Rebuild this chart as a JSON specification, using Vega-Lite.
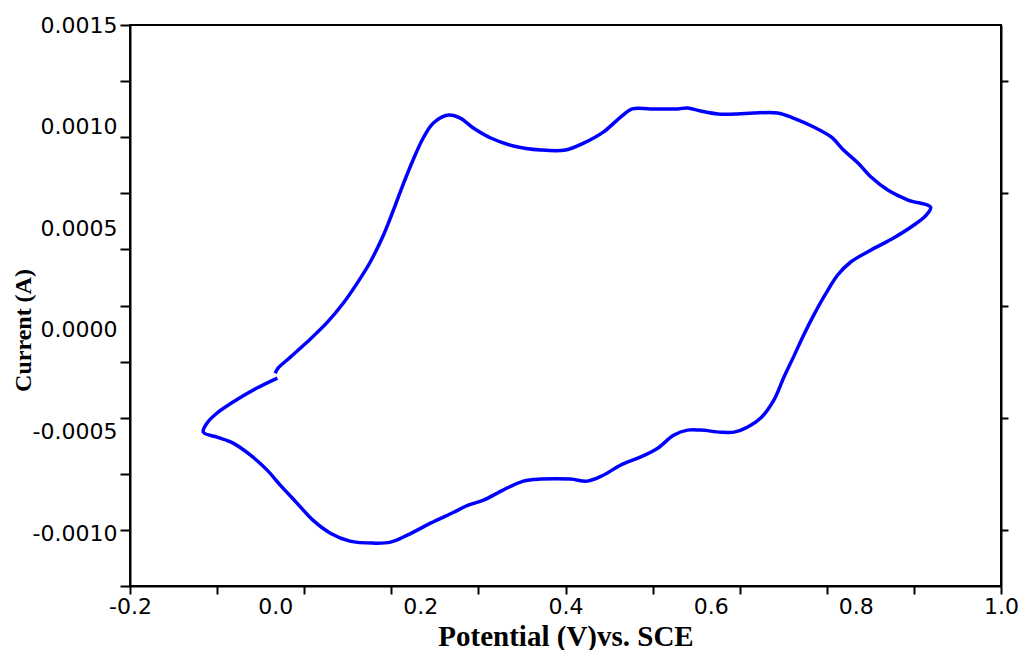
{
  "$schema": "https://vega.github.io/schema/vega-lite/v6.json",
  "width": 871,
  "height": 561,
  "autosize": "none",
  "padding": {"left": 130, "top": 25, "right": 21, "bottom": 64},
  "background": "white",
  "config": {
    "view": {"stroke": "black", "strokeWidth": 2},
    "axis": {
      "domainColor": "black",
      "domainWidth": 2,
      "tickColor": "black",
      "tickWidth": 2,
      "grid": false,
      "labelFont": "DejaVu Sans",
      "labelFontSize": 22,
      "labelColor": "black",
      "labelOverlap": false,
      "labelFlush": false,
      "labelBound": false
    }
  },
  "data": {
    "values": [
      {"k": 1, "v": 0.003, "i": -0.000237},
      {"k": 2, "v": -0.025, "i": -0.000286},
      {"k": 3, "v": -0.058, "i": -0.000355},
      {"k": 4, "v": -0.080, "i": -0.000409},
      {"k": 5, "v": -0.094, "i": -0.000459},
      {"k": 6, "v": -0.099, "i": -0.000503},
      {"k": 7, "v": -0.080, "i": -0.000528},
      {"k": 8, "v": -0.058, "i": -0.000557},
      {"k": 9, "v": -0.034, "i": -0.000616},
      {"k": 10, "v": -0.011, "i": -0.000690},
      {"k": 11, "v": 0.007, "i": -0.000764},
      {"k": 12, "v": 0.030, "i": -0.000852},
      {"k": 13, "v": 0.052, "i": -0.000936},
      {"k": 14, "v": 0.076, "i": -0.001000},
      {"k": 15, "v": 0.103, "i": -0.001039},
      {"k": 16, "v": 0.135, "i": -0.001049},
      {"k": 17, "v": 0.159, "i": -0.001044},
      {"k": 18, "v": 0.182, "i": -0.001010},
      {"k": 19, "v": 0.214, "i": -0.000951},
      {"k": 20, "v": 0.246, "i": -0.000897},
      {"k": 21, "v": 0.266, "i": -0.000862},
      {"k": 22, "v": 0.287, "i": -0.000838},
      {"k": 23, "v": 0.314, "i": -0.000788},
      {"k": 24, "v": 0.342, "i": -0.000744},
      {"k": 25, "v": 0.366, "i": -0.000734},
      {"k": 26, "v": 0.407, "i": -0.000734},
      {"k": 27, "v": 0.430, "i": -0.000744},
      {"k": 28, "v": 0.452, "i": -0.000715},
      {"k": 29, "v": 0.476, "i": -0.000665},
      {"k": 30, "v": 0.503, "i": -0.000626},
      {"k": 31, "v": 0.527, "i": -0.000582},
      {"k": 32, "v": 0.549, "i": -0.000518},
      {"k": 33, "v": 0.568, "i": -0.000493},
      {"k": 34, "v": 0.586, "i": -0.000493},
      {"k": 35, "v": 0.614, "i": -0.000503},
      {"k": 36, "v": 0.632, "i": -0.000503},
      {"k": 37, "v": 0.651, "i": -0.000478},
      {"k": 38, "v": 0.669, "i": -0.000434},
      {"k": 39, "v": 0.687, "i": -0.000346},
      {"k": 40, "v": 0.701, "i": -0.000232},
      {"k": 41, "v": 0.714, "i": -0.000134},
      {"k": 42, "v": 0.728, "i": -0.000026},
      {"k": 43, "v": 0.742, "i": 0.000073},
      {"k": 44, "v": 0.759, "i": 0.000181},
      {"k": 45, "v": 0.775, "i": 0.000270},
      {"k": 46, "v": 0.793, "i": 0.000334},
      {"k": 47, "v": 0.821, "i": 0.000393},
      {"k": 48, "v": 0.852, "i": 0.000452},
      {"k": 49, "v": 0.880, "i": 0.000516},
      {"k": 50, "v": 0.897, "i": 0.000565},
      {"k": 51, "v": 0.903, "i": 0.000604},
      {"k": 52, "v": 0.872, "i": 0.000639},
      {"k": 53, "v": 0.844, "i": 0.000688},
      {"k": 54, "v": 0.821, "i": 0.000752},
      {"k": 55, "v": 0.803, "i": 0.000821},
      {"k": 56, "v": 0.783, "i": 0.000885},
      {"k": 57, "v": 0.766, "i": 0.000949},
      {"k": 58, "v": 0.742, "i": 0.000998},
      {"k": 59, "v": 0.714, "i": 0.001042},
      {"k": 60, "v": 0.692, "i": 0.001067},
      {"k": 61, "v": 0.659, "i": 0.001067},
      {"k": 62, "v": 0.637, "i": 0.001062},
      {"k": 63, "v": 0.610, "i": 0.001062},
      {"k": 64, "v": 0.586, "i": 0.001077},
      {"k": 65, "v": 0.568, "i": 0.001092},
      {"k": 66, "v": 0.554, "i": 0.001087},
      {"k": 67, "v": 0.517, "i": 0.001087},
      {"k": 68, "v": 0.492, "i": 0.001087},
      {"k": 69, "v": 0.476, "i": 0.001047},
      {"k": 70, "v": 0.452, "i": 0.000973},
      {"k": 71, "v": 0.425, "i": 0.000919},
      {"k": 72, "v": 0.400, "i": 0.000885},
      {"k": 73, "v": 0.366, "i": 0.000885},
      {"k": 74, "v": 0.328, "i": 0.000905},
      {"k": 75, "v": 0.297, "i": 0.000944},
      {"k": 76, "v": 0.273, "i": 0.000993},
      {"k": 77, "v": 0.255, "i": 0.001042},
      {"k": 78, "v": 0.239, "i": 0.001057},
      {"k": 79, "v": 0.218, "i": 0.001018},
      {"k": 80, "v": 0.204, "i": 0.000944},
      {"k": 81, "v": 0.190, "i": 0.000836},
      {"k": 82, "v": 0.177, "i": 0.000722},
      {"k": 83, "v": 0.163, "i": 0.000590},
      {"k": 84, "v": 0.148, "i": 0.000457},
      {"k": 85, "v": 0.131, "i": 0.000334},
      {"k": 86, "v": 0.113, "i": 0.000230},
      {"k": 87, "v": 0.094, "i": 0.000132},
      {"k": 88, "v": 0.072, "i": 0.000038},
      {"k": 89, "v": 0.044, "i": -0.000060},
      {"k": 90, "v": 0.021, "i": -0.000134},
      {"k": 91, "v": 0.004, "i": -0.000188},
      {"k": 92, "v": 0.000, "i": -0.000213}
    ]
  },
  "encoding": {
    "x": {
      "field": "v",
      "type": "quantitative",
      "scale": {"domain": [-0.2, 1.0], "nice": false, "zero": false},
      "axis": {
        "orient": "bottom",
        "values": [-0.2, -0.08, 0, 0.04, 0.16, 0.2, 0.28, 0.4, 0.52, 0.6, 0.64, 0.76, 0.8, 0.88, 1.0],
        "labelExpr": "indexof([-0.2, 0, 0.2, 0.4, 0.6, 0.8, 1.0], datum.value) >= 0 ? (datum.value < 0 ? '-' : '') + format(abs(datum.value), '.1f') : ''",
        "tickOpacity": {"condition": {"test": "indexof([-0.2, -0.08, 0.04, 0.16, 0.28, 0.4, 0.52, 0.64, 0.76, 0.88, 1.0], datum.value) < 0", "value": 0}, "value": 1},
        "tickSize": 8,
        "labelPadding": 2,
        "labelBaseline": "top",
        "encode": {"ticks": {"update": {"y2": {"signal": "indexof([-0.2, 0.04, 0.28, 0.52, 0.76, 1.0], datum.value) >= 0 ? 8 : 5"}}}},
        "title": "Potential (V)vs. SCE",
        "titleFont": "Liberation Serif",
        "titleFontWeight": "bold",
        "titleFontSize": 29,
        "titleColor": "black",
        "titleBaseline": "alphabetic",
        "titleY": 59
      }
    }
  },
  "layer": [
    {
      "mark": {"type": "line", "color": "#0000FF", "strokeWidth": 3.5, "interpolate": "catmull-rom"},
      "encoding": {
        "order": {"field": "k", "type": "quantitative"},
        "y": {
          "field": "i",
          "type": "quantitative",
          "scale": {"domain": [-0.00126, 0.0015], "nice": false, "zero": false},
          "axis": {
            "orient": "left",
            "values": [0.0015, 0.001224, 0.001, 0.000948, 0.000672, 0.0005, 0.000396, 0.00012, 0, -0.000156, -0.000432, -0.0005, -0.000708, -0.000984, -0.001, -0.00126],
            "labelExpr": "indexof([0.0015, 0.001, 0.0005, 0, -0.0005, -0.001], datum.value) >= 0 ? (datum.value < 0 ? '-' : '') + format(abs(datum.value), '.4f') : ''",
            "tickOpacity": {"condition": {"test": "indexof([0.0015, 0.001224, 0.000948, 0.000672, 0.000396, 0.00012, -0.000156, -0.000432, -0.000708, -0.000984, -0.00126], datum.value) < 0", "value": 0}, "value": 1},
            "tickSize": 10,
            "labelPadding": 3,
            "labelBaseline": "middle",
            "encode": {"ticks": {"update": {"x2": {"signal": "indexof([0.0015, 0.000948, 0.000396, -0.000156, -0.000708, -0.00126], datum.value) >= 0 ? -10 : -5"}}}},
            "title": "Current (A)",
            "titleFont": "Liberation Serif",
            "titleFontWeight": "bold",
            "titleFontSize": 24,
            "titleColor": "black",
            "titleBaseline": "alphabetic",
            "titleAlign": "center",
            "titleAngle": -90,
            "titleX": -100,
            "titleY": 305
          }
        }
      }
    },
    {
      "mark": {"type": "line", "strokeOpacity": 0},
      "encoding": {
        "order": {"field": "k", "type": "quantitative"},
        "y": {
          "field": "i",
          "type": "quantitative",
          "scale": {"domain": [-0.00126, 0.0015], "nice": false, "zero": false},
          "axis": {
            "orient": "right",
            "values": [0.001224, 0.000672, 0.00012, -0.000432, -0.000984],
            "labels": false,
            "tickSize": 7,
            "encode": {"ticks": {"update": {"x2": {"value": -7}}}},
            "title": null
          }
        }
      }
    }
  ],
  "resolve": {"axis": {"y": "independent"}}
}
